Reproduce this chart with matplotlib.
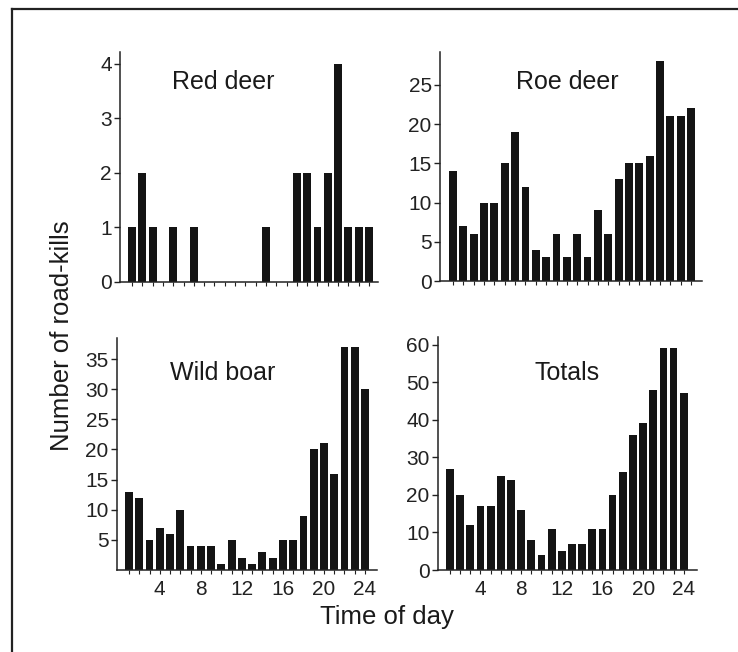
import matplotlib
matplotlib.use("Agg")
import matplotlib.pyplot as plt
from matplotlib.lines import Line2D

plt.rcParams["font.family"] = ["Liberation Sans", "DejaVu Sans"]

hours = list(range(1, 25))

red_deer = [1, 2, 1, 0, 1, 0, 1, 0, 0, 0, 0, 0, 0, 1, 0, 0, 2, 2, 1, 2, 4, 1, 1, 1]
roe_deer = [14, 7, 6, 10, 10, 15, 19, 12, 4, 3, 6, 3, 6, 3, 9, 6, 13, 15, 15, 16, 28, 21, 21, 22]
wild_boar = [13, 12, 5, 7, 6, 10, 4, 4, 4, 1, 5, 2, 1, 3, 2, 5, 5, 9, 20, 21, 16, 37, 37, 30]
totals = [27, 20, 12, 17, 17, 25, 24, 16, 8, 4, 11, 5, 7, 7, 11, 11, 20, 26, 36, 39, 48, 59, 59, 47]

titles = ["Red deer", "Roe deer", "Wild boar", "Totals"]
yticks = [[0, 1, 2, 3, 4],
          [0, 5, 10, 15, 20, 25],
          [5, 10, 15, 20, 25, 30, 35],
          [0, 10, 20, 30, 40, 50, 60]]
xtick_labels = [4, 8, 12, 16, 20, 24]

W, H = 738, 652
# panel boxes in pixels: left, right, bottom, top
boxes = [(120, 378, 282, 52), (440, 702, 281, 52),
         (117, 377, 570, 338), (438, 697, 570, 337)]
xlims = [(-0.17, 24.88), (-0.26, 25.06), (-0.17, 25.17), (-0.18, 25.3)]
ylims = [(0, 4.22), (0, 29.2), (0, 38.5), (0, 62)]
title_pos = [(223, 82), (567, 82), (223, 373), (567, 373)]

fig = plt.figure(figsize=(W / 100, H / 100), dpi=100)

series = [red_deer, roe_deer, wild_boar, totals]
for i, vals in enumerate(series):
    l, r, b, t = boxes[i]
    ax = fig.add_axes([l / W, 1 - b / H, (r - l) / W, (b - t) / H])
    ax.bar(hours, vals, width=0.76, color="#141414", edgecolor="none")
    ax.set_xlim(*xlims[i])
    ax.set_ylim(*ylims[i])
    for s in ("top", "right"):
        ax.spines[s].set_visible(False)
    for s in ("left", "bottom"):
        ax.spines[s].set_linewidth(1.1)
        ax.spines[s].set_color("#222222")
    ax.set_yticks(yticks[i])
    ax.tick_params(axis="y", direction="out", length=4, width=1, pad=2,
                   labelsize=15, colors="#222222")
    ax.set_xticks(hours)
    if i >= 2:
        ax.set_xticklabels([str(h) if h in xtick_labels else "" for h in hours])
    else:
        ax.set_xticklabels([])
    ax.tick_params(axis="x", direction="out", length=3, width=0.8, pad=4,
                   labelsize=15, colors="#222222")
    tx, ty = title_pos[i]
    fig.text(tx / W, 1 - ty / H, titles[i], fontsize=18, ha="center",
             va="center", color="#1a1a1a")

fig.text(62 / W, 1 - 336 / H, "Number of road-kills", rotation=90,
         fontsize=18.5, ha="center", va="center", color="#1a1a1a")
fig.text(387 / W, 1 - 617 / H, "Time of day", fontsize=18.5,
         ha="center", va="center", color="#1a1a1a")

# outer frame (left and top edges visible in the scan)
fig.add_artist(Line2D([12 / W, 12 / W], [0, 1 - 9 / H], color="#222222",
                      lw=1.6, transform=fig.transFigure))
fig.add_artist(Line2D([12 / W, 1], [1 - 9 / H, 1 - 9 / H], color="#222222",
                      lw=1.6, transform=fig.transFigure))

fig.savefig("out.png", dpi=100)
